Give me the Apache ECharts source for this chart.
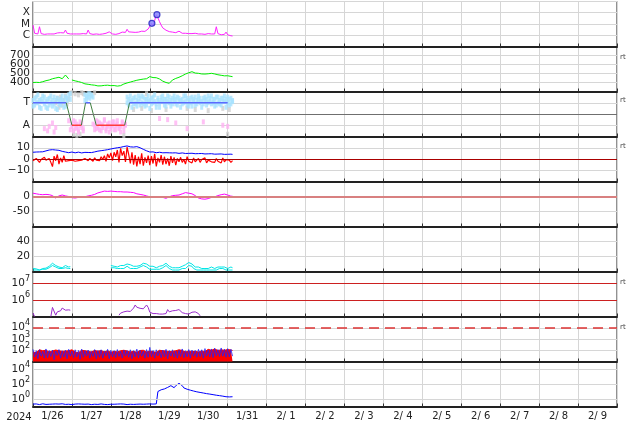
<!DOCTYPE html>
<html><head><meta charset="utf-8">
<script src="https://cdn.jsdelivr.net/npm/echarts@6/dist/echarts.min.js"></script>
<style>html,body{margin:0;padding:0;background:#fff}#c{width:634px;height:424px}</style>
</head><body><div id="c"></div>
<script>
// ---- labels ----
const dayLabels = ['1/26','1/27','1/28','1/29','1/30','1/31','2/ 1','2/ 2','2/ 3','2/ 4','2/ 5','2/ 6','2/ 7','2/ 8','2/ 9'];
const yearLabel = '2024';
const sideNotes = ['rt','rt','rt','rt','rt'];
// All series are hourly samples, index = hours since 2024-01-26 00:00 UT

// Panel 1: X-ray flux (micro W/m^2; 1 = C, 10 = M, 100 = X)
const xray = [8,1.5,1.3,1.3,5.7,1.4,1.3,1.2,1.3,1.3,
1.2,1.3,1.4,1.3,1.3,1.6,1.9,1.7,1.9,1.6,
2.9,1.5,1.3,1.3,1.4,1.3,1.2,1.3,1.4,1.3,
1.3,1.4,1.3,1.3,2.9,1.4,1.3,1.2,1.2,1.3,
1.3,1.2,1.3,1.3,1.4,1.5,1.9,2.0,1.5,1.3,
1.3,1.2,1.3,1.4,1.6,1.9,2.2,1.8,3.4,2.0,
2.3,1.9,2.1,1.8,2.5,1.9,2.0,2.3,1.9,2.2,
2.8,3.6,4.4,11,7,20,66,35,16,8,
4.5,3.3,2.8,2.3,2.1,2.0,1.9,1.8,1.7,1.7,
2.3,1.7,1.5,1.4,1.5,1.7,1.4,1.3,1.4,1.3,
1.5,1.4,1.3,1.4,1.3,1.3,1.2,1.3,1.4,1.3,
1.3,1.2,1.3,5.7,1.4,1.2,1.1,1.1,1.2,1.9,
1.1,1.0,0.9,0.86];
const flareHours = [73.3, 76.4];
const flareFlux = [11.5, 68];

// Panel 2: solar wind speed (km/s)
const speed = [400,398,402,405,400,407,409,415,420,424,
428,435,442,447,450,455,458,452,442,460,
483,462,440,null,428,425,418,412,410,408,
400,392,385,383,380,378,374,372,370,365,
362,361,363,366,368,369,370,367,365,369,
366,362,360,358,365,375,383,391,395,400,
405,409,415,420,425,428,432,436,438,440,
442,455,465,462,455,450,453,445,439,428,
415,409,400,395,391,410,428,435,445,452,
458,468,475,485,494,500,508,515,520,512,
505,500,502,498,495,500,494,492,497,500,
502,502,495,490,486,483,480,476,474,472,
475,470,468,465];

// Panel 3: IMF sector (T = +1, A = -1) and scattered samples
const sectorHours = [0, 20.5, 24, 29.8, 32.4, 35.3, 39, 56.5, 59.5, 120];
const sectorPol   = [1, 1, -1, -1, 1, 1, -1, -1, 1, 1];
const phiBlue1 = [1.2,0.8,1.5,1.0,0.6,1.3,1.6,0.9,1.1,0.5,
1.4,1.0,0.7,1.5,1.2,0.4,0.9,1.3,1.6,1.1,
0.7,1.4,1.7,1.3,null,null,null,null,null,null,
null,null,1.2,1.6,1.5,1.8,1.7,1.5,null,null,
null,null,null,null,null,null,null,null,null,null,
null,null,null,null,null,null,null,null,1.0,1.3,
1.1,0.6,1.4,0.9,1.2,1.6,0.8,1.0,1.5,0.7,
1.3,1.1,0.5,1.4,1.0,1.7,0.9,1.2,0.6,1.5,
1.1,0.8,1.3,1.6,1.0,0.7,1.4,1.2,0.9,1.5,
1.1,0.6,1.3,1.0,1.6,0.8,1.2,1.4,0.7,1.1,
1.5,0.9,1.3,1.0,0.6,1.4,1.2,0.8,1.6,1.1,
0.9,1.3,0.7,1.5,1.0,1.2,0.8,1.4,1.1,0.6,
1.5,1.3,0.9,1.2];
const phiBlue2 = [0.7,1.4,1.0,1.7,1.2,0.5,1.1,1.5,0.6,1.3,
0.8,1.6,1.2,0.9,0.5,1.4,1.1,0.8,1.2,0.6,
1.5,1.2,null,1.8,null,null,null,null,null,null,
null,null,1.7,1.3,1.8,1.4,1.6,null,null,null,
null,null,null,null,null,null,null,null,null,null,
null,null,null,null,null,null,null,null,1.5,0.8,
1.6,1.2,0.9,1.5,0.7,1.1,1.4,1.6,0.9,1.3,
0.8,1.6,1.2,0.9,1.5,1.1,0.6,1.4,1.0,1.2,
1.6,1.3,0.7,1.1,1.5,1.2,0.9,1.6,1.3,0.8,
1.4,1.2,0.9,1.6,1.1,1.4,0.7,1.0,1.5,1.3,
0.8,1.2,1.6,1.4,1.1,0.9,1.5,1.3,1.0,1.4,
1.6,1.0,1.3,0.8,1.5,0.9,1.4,1.1,1.6,1.3,
1.0,0.8,1.4,1.1];
const phiPink1 = [null,null,null,null,null,null,null,-1.3,null,-1.5,
-1.1,null,-0.8,-1.6,-1.2,null,null,null,null,null,
null,null,-0.6,-1.4,-0.9,-1.5,-0.7,-1.2,-1.6,-1.0,
-0.8,-1.3,null,null,null,null,null,-0.9,-1.4,-0.6,
-1.2,-0.8,-1.5,-1.0,-0.5,-1.3,-0.9,-1.6,-1.1,-0.7,
-1.4,-1.0,-0.6,-1.3,-1.1,-0.8,-1.5,-1.0,null,null,
null,null,null,null,null,null,null,null,null,null,
null,null,null,null,null,null,null,null,-0.4,null,
null,null,null,-0.5,null,null,null,null,-0.8,null,
null,null,null,null,null,-1.3,null,null,null,null,
null,null,null,null,null,-0.7,null,null,null,null,
null,null,null,null,null,null,null,-1.0,null,null,
-1.1,null,null,null];
const phiPink2 = [null,null,null,null,null,null,null,null,null,null,
null,null,null,null,null,null,null,null,null,null,
null,null,null,null,-1.1,-0.6,-1.3,-0.9,-1.4,-0.7,
-1.2,-1.5,null,null,null,null,null,null,-1.0,-1.3,
-0.7,-1.4,-0.9,-1.2,-0.6,-1.5,-1.1,-0.8,-1.3,-1.0,
-0.7,-1.4,-0.9,-1.2,-1.6,-0.7,-1.1,-0.9,null,null];
const phiGray = [null,null,null,null,null,null,null,null,null,null,
null,null,null,null,1.0,1.4,0.6,1.5,0.8,1.2,
1.6,0.9,1.3,1.8,1.9,-1.8,1.8,-1.9,1.7,-1.8,
1.9,1.8,null,null,null,null,null,null,1.9,null,
null,null,null,null,null,null,null,null,null,null,
null,null,null,null,null,null,-1.9,null,null,null,
null,null,0.4,null,null,null,null,0.5,null,null,
1.8,null,null,0.3,null,null,null,null,null,null,
null,null,0.4,null,null,null,null,null,null,null,
null,null,null,null,null,0.5,null,null,null,null,
0.4,null,null,null,null,null,null,null,0.3,null,
null,null,null,null,null,null,null,0.5,null,null,
-1.8,0.4,null,null];

// Panel 4: IMF Bt and Bz (nT)
const bt = [6.0,5.8,6.2,6.5,6.3,6.0,6.4,6.8,7.2,7.6,8.0,
8.6,8.3,8.8,8.0,7.5,7.7,7.2,6.8,6.5,6.2,
6.0,5.6,5.8,6.2,5.9,5.5,5.8,6.1,5.7,5.4,5.6,5.9,6.2,5.8,5.5,5.7,6.0,6.3,6.6,7.0,
7.2,7.4,7.6,7.8,8.0,8.3,8.6,8.9,9.2,9.5,9.8,10.0,10.2,10.4,10.8,11.1,11.4,11.6,11.2,10.8,
10.4,10.6,10.8,11.0,10.6,10.0,9.4,8.6,8.0,7.3,
6.5,6.2,6.0,6.3,5.9,5.6,5.8,6.0,5.7,5.5,
5.8,5.6,5.3,5.5,5.7,5.4,5.2,5.5,5.3,5.0,
5.2,5.4,5.1,4.9,5.2,5.0,4.8,5.1,4.9,4.7,
5.0,4.8,4.6,4.9,4.7,4.5,4.8,4.6,4.4,4.7,
4.5,4.3,4.6,4.4,4.2,4.5,4.3,4.1,4.4,4.2,
4.0,4.3,4.1];
const bz = [-1.5,-2.5,0.5,-1.0,-3.0,-0.5,-2.0,1.5,-1.0,-2.5,0.5,
-3.0,-6.8,2.5,-1.5,4.0,-4.5,1.0,-3.0,3.0,-2.0,
-0.5,-1.5,-2.5,-1.0,0.5,-2.0,-0.5,-1.5,0.0,-1.0,
-2.0,0.5,-1.0,-1.5,0.5,-0.5,-2.0,1.0,-1.0,0.5,
-1.5,2.0,-0.5,3.0,-2.0,4.5,1.0,5.5,-1.5,6.0,
2.0,8.0,-3.0,9.5,3.0,7.0,-2.5,10.5,4.0,-4.0,
6.0,-5.0,3.5,-6.5,2.0,-4.5,5.0,-6.0,1.5,-3.5,
3.0,-5.5,2.5,-4.0,4.5,-6.5,1.0,-3.0,3.5,-5.0,
2.0,-4.5,0.5,-6.0,2.5,-3.5,1.5,-5.5,0.5,-2.5,
1.5,-3.0,-0.5,-4.5,2.0,-2.0,-1.0,-3.5,1.0,-2.5,
-1.5,0.5,-3.0,-0.5,-2.0,1.0,-3.5,-1.0,0.5,-2.5,
-1.5,-3.0,0.5,-2.0,-1.0,-3.5,1.0,-2.5,-0.5,-2.0,
-1.0,-3.0,-1.5];

// Panel 5: Dst (nT)
const dst = [11,10,9,8,7,7,6,6,7,6,
6,5,3,0,-5,-3,2,4,5,4,
2,1,0,-2,-4,-6,-5,-4,-3,-3,
-3,-2,-1,0,2,3,4,5,7,10,
12,13,15,17,18,18,17,18,18,17,
17,16,16,17,16,15,15,16,15,14,
14,13,13,11,9,8,7,6,5,4,
2,0,-1,-1,0,-1,-2,-1,0,-1,
-3,-5,-6,-4,-1,1,3,4,4,5,
5,7,9,11,13,12,11,10,9,7,
3,-2,-5,-7,-8,-9,-9,-8,-7,-5,
-3,-2,-1,1,3,5,6,7,8,8,
5,2,1,1];

// Panel 6: solar wind density (/cc), two sources
const dens1 = [4,3,3.5,2.5,2,3,4,5,4.5,6,7,9,11,10,8,7,6,7.5,5,6,8,7,6,6.5,
null,null,null,null,null,null,null,null,null,null,null,null,
null,null,null,null,null,null,null,null,null,null,null,null,
8,9,7,8,6,7,8,7,8,9,
10,11,9,8,7,8,7,6,8,9,
11,12,10,8,7,6,7,6,5,6,
7,6,8,10,11,9,7,6,5,6,
5,4,5,6,7,8,9,11,12,13,
10,8,6,5,6,5,4,5,4,5,
4,5,6,5,4,5,6,5,6,7,
6,5,4,5,6,5];
const dens2 = [2,2.5,2,1.5,2,2.5,3,3.5,3,4,5,6,8,9,6,5,4,5,4,4.5,5,5.5,4,4,
null,null,null,null,null,null,null,null,null,null,null,null,
null,null,null,null,null,null,null,null,null,null,null,null,
5,4,5,3,4,5,4,3,4,5,
7,6,4,3,4,3,4,5,6,5,
8,9,6,4,3,4,3,2,3,4,
3,4,5,7,8,6,4,3,2,3,
2,3,2,3,4,3,4,6,8,10,
7,4,3,2,3,2,3,2,3,2,
3,2,3,2,3,2,3,4,3,4,
3,2,3,2,3,2];

// Panel 7: electron flux
const electron = [1.6e5,1.0e5,null,null,null,null,null,null,null,null,null,
1.0e5,3.5e5,3.9e5,1.2e5,1.9e5,1.8e5,2.2e5,3.2e5,3.0e5,2.4e5,2.6e5,2.5e5,2.4e5,
null,null,null,null,null,null,null,null,null,null,null,null,
1.1e5,
null,null,null,null,null,null,null,null,null,null,null,null,null,null,null,null,
1.2e5,1.6e5,1.4e5,1.9e5,1.7e5,2.1e5,2.2e5,2.0e5,2.3e5,3.2e5,
4.9e5,3.6e5,2.8e5,3.1e5,2.4e5,2.9e5,3.8e5,4.9e5,3.5e5,1.8e5,
1.6e5,1.5e5,1.7e5,1.5e5,1.3e5,1.4e5,1.2e5,1.4e5,1.3e5,1.5e5,
2.6e5,1.9e5,2.5e5,2.2e5,1.8e5,2.3e5,2.0e5,2.6e5,2.9e5,1.7e5,
1.3e5,1.5e5,1.2e5,1.4e5,1.6e5,1.8e5,1.7e5,1.9e5,1.8e5,1.5e5,
1.1e5,
null,null,null,null,null,null,null,null,null,null,
null,null,null,null,null,null,null,null,null,null];

// Panel 8: proton flux (two channels)
const protonRed = [70,95,60,85,110,75,90,65,100,80,70,95,85,60,105,75,90,70,80,100,
85,65,90,75,110,80,70,95,60,85,100,75,90,65,80,105,70,85,95,75,
80,60,95,85,70,100,90,75,65,95,80,110,70,85,90,60,100,75,85,95,
70,90,80,105,65,85,95,75,100,80,70,90,85,110,75,95,65,85,100,80,
90,70,85,95,75,100,80,65,90,85,110,75,95,80,70,100,85,90,75,95,
80,100,70,90,85,110,75,95,120,90,100,85,130,105,95,140,110,125,100,135,115,120,105,95];
const protonBlue = [120,25,90,18,110,30,80,20,130,22,95,28,105,15,85,35,115,20,90,25,
100,18,120,30,85,22,110,26,95,16,125,24,90,30,105,20,80,28,115,18,
95,24,110,20,85,32,120,18,100,26,90,22,115,28,80,20,105,30,95,24,
110,18,90,26,125,22,100,30,85,20,115,24,180,28,95,20,110,32,90,22,
105,26,120,18,95,30,110,24,85,20,100,28,130,22,90,26,115,20,105,30,
95,24,120,28,110,20,140,30,105,26,130,22,150,32,115,28,160,30,125,24,140,26,120,30];

// Panel 9: high-energy proton flux
const protonHigh = [0.21,0.19,0.22,0.20,0.18,0.21,0.23,0.20,0.19,0.22,
0.20,0.18,0.21,0.19,0.22,0.20,0.21,0.19,0.23,0.20,
0.19,0.21,0.20,0.22,0.18,0.20,0.21,0.19,0.22,0.20,
0.21,0.23,0.20,0.19,0.21,0.20,0.18,0.22,0.20,0.21,
0.19,0.20,0.22,0.21,0.19,0.20,0.18,0.21,0.20,0.22,
0.20,0.19,0.21,0.20,0.22,0.19,0.21,0.20,0.18,0.21,
0.20,0.22,0.19,0.21,0.20,0.19,0.21,0.22,0.20,0.19,
0.21,0.20,0.22,0.19,0.21,0.20,0.22,
10,14,17,19,22,26,35,48,60,40,
32,60,95,123,90,60,30,24,20,17,
15,13,11.5,10,9,8,7.5,7,6.3,5.8,
5.2,4.8,4.5,4.2,3.8,3.5,3.2,3.0,2.8,2.6,
2.4,2.2,2.0,1.85,1.9,2.0,2.0];

// ---------------- chart building ----------------
const FONT = 'DejaVu Sans';
const GRIDC = '#d6d6d6';
const N = 9, TOP0 = 1.5, H = 45;
const toXY = arr => arr.map((v, i) => [i, v == null ? '-' : v]);
const toPts = arr => arr.map((v, i) => [i, v]).filter(p => p[1] != null);

const grids = [], xAxes = [], yAxes = [], series = [];
for (let i = 0; i < N; i++) {
  grids.push({left: 33, right: 17, top: TOP0 + i * H, height: H, show: true, borderColor: '#222', borderWidth: 1});
  xAxes.push({type: 'value', gridIndex: i, min: 0, max: 360, interval: 24,
    axisLabel: {show: false},
    axisTick: {show: true, inside: true, length: 3, lineStyle: {color: '#333'}},
    axisLine: {show: true, onZero: false, lineStyle: {color: '#222', width: 2}},
    splitLine: {show: true, lineStyle: {color: GRIDC, width: 1}}});
}
xAxes.push({type: 'category', gridIndex: 8, data: dayLabels, position: 'bottom', boundaryGap: true,
  axisLine: {show: false}, axisTick: {show: false}, splitLine: {show: false},
  axisLabel: {interval: 0, fontSize: 10, color: '#222', fontFamily: FONT, margin: 5}});

const lab = {fontSize: 10.5, color: '#222', fontFamily: FONT, margin: 3};
const rich = {b: {fontSize: 10.5, fontFamily: FONT, color: '#222'}, s: {fontSize: 8, fontFamily: FONT, color: '#222', padding: [0, 0, 9, 0]}};
const logFmt = allowed => v => {
  const l = Math.log10(v), e = Math.round(l);
  if (Math.abs(l - e) > 0.01 || allowed.indexOf(e) < 0) return '';
  return '{b|10}{s|' + e + '}';
};
const base = i => ({gridIndex: i, axisLine: {show: false}, axisTick: {show: false},
  splitLine: {show: true, lineStyle: {color: GRIDC, width: 1}}});

yAxes.push(Object.assign(base(0), {type: 'log', logBase: 10, min: 0.1, max: 1000,
  axisLabel: Object.assign({}, lab, {formatter: v => {
    const l = Math.log10(v), e = Math.round(l);
    if (Math.abs(l - e) > 0.01) return '';
    return ({0: 'C', 1: 'M', 2: 'X'})[e] || '';
  }})}));
yAxes.push(Object.assign(base(1), {type: 'value', min: 300, max: 800, interval: 100,
  axisLabel: Object.assign({}, lab, {formatter: v => (v >= 400 && v <= 700) ? String(v) : ''})}));
yAxes.push(Object.assign(base(2), {type: 'value', min: -2, max: 2, interval: 1,
  axisLabel: Object.assign({}, lab, {formatter: v => v === 1 ? 'T' : (v === -1 ? 'A' : '')})}));
yAxes.push(Object.assign(base(3), {type: 'value', min: -20, max: 20, interval: 10,
  axisLabel: Object.assign({}, lab, {formatter: v => v === 10 ? '10' : (v === 0 ? '0' : (v === -10 ? '\u221210' : ''))})}));
yAxes.push(Object.assign(base(4), {type: 'value', min: -100, max: 50, interval: 50,
  axisLabel: Object.assign({}, lab, {formatter: v => v === 0 ? '0' : (v === -50 ? '-50' : '')})}));
yAxes.push(Object.assign(base(5), {type: 'value', min: 0, max: 60, interval: 20,
  axisLabel: Object.assign({}, lab, {formatter: v => (v === 20 || v === 40) ? String(v) : ''})}));
yAxes.push(Object.assign(base(6), {type: 'log', logBase: 10, min: 1e5, max: 5e7, splitLine: {show: false},
  axisLabel: Object.assign({}, lab, {formatter: logFmt([6, 7]), rich})}));
yAxes.push(Object.assign(base(7), {type: 'log', logBase: 10, min: 10, max: 1e5,
  axisLabel: Object.assign({}, lab, {formatter: logFmt([2, 3, 4]), rich})}));
yAxes.push(Object.assign(base(8), {type: 'log', logBase: 10, min: 0.1, max: 1e5, splitLine: {show: false},
  axisLabel: Object.assign({}, lab, {formatter: logFmt([0, 2, 4]), rich})}));

const line = (gi, data, color, width, extra) => Object.assign({
  type: 'line', xAxisIndex: gi, yAxisIndex: gi, data: data, symbol: 'none', showSymbol: false,
  lineStyle: {color: color, width: width || 1}, itemStyle: {color: color}, connectNulls: false,
  silent: true, animation: false, z: 3}, extra || {});
const mline = (vals, color, width, type) => ({silent: true, symbol: ['none', 'none'], label: {show: false},
  lineStyle: {color: color, width: width, type: type || 'solid'},
  data: vals.map(v => ({yAxis: v})), animation: false});
const dots = (gi, data, color) => ({type: 'scatter', xAxisIndex: gi, yAxisIndex: gi, data: toPts(data),
  symbol: 'rect', symbolSize: [3, 5], itemStyle: {color: color}, silent: true, animation: false, z: 2});

// Panel 1
series.push(line(0, toXY(xray), '#ff22ff', 1));
series.push({type: 'scatter', xAxisIndex: 0, yAxisIndex: 0, data: flareHours.map((h, i) => [h, flareFlux[i]]),
  symbol: 'circle', symbolSize: 6, itemStyle: {color: '#8080ff', borderColor: '#2020c0', borderWidth: 1.2}, z: 6, silent: true, animation: false});
// Panel 2
series.push(line(1, toXY(speed), '#00ee00', 1));
// Panel 3
series.push(dots(2, phiGray, '#cfcfcf'));
series.push(dots(2, phiBlue1, '#a8e2ff'));
series.push(dots(2, phiBlue2, '#a8e2ff'));
series.push(dots(2, phiPink1, '#ffb2f2'));
series.push(dots(2, phiPink2, '#ffb2f2'));
series.push(line(2, [], '#777', 1, {markLine: mline([0], '#6f6f6f', 1)}));
for (let i = 0; i < sectorHours.length - 1; i++) {
  const a = sectorPol[i], b = sectorPol[i + 1];
  const col = a === b ? (a > 0 ? '#5b6bff' : '#ff3b3b') : '#3f7f3f';
  series.push(line(2, [[sectorHours[i], a], [sectorHours[i + 1], b]], col, a === b ? 1.6 : 1, {z: 4}));
}
// Panel 4
series.push(line(3, toXY(bt), '#0000ff', 1));
series.push(line(3, toXY(bz), '#ff0000', 1.2, {markLine: mline([0], '#aa0000', 1.2)}));
// Panel 5
series.push(line(4, toXY(dst), '#ff00ff', 1, {markLine: mline([0], '#d88080', 2)}));
// Panel 6
series.push(line(5, toXY(dens1), '#00e6e6', 1));
series.push(line(5, toXY(dens2), '#00e6e6', 1));
// Panel 7
series.push(line(6, toXY(electron), '#9a2ccc', 1, {markLine: mline([1e6, 1e7], '#cc2020', 1)}));
// Panel 8
series.push(line(7, toXY(protonRed), '#ff0000', 1, {areaStyle: {color: '#ff0000', opacity: 1, origin: 'start'},
  markLine: mline([1e4], '#dd3333', 1.5, [10, 6])}));
series.push(line(7, toXY(protonBlue), '#2020ff', 0.8, {z: 4}));
// Panel 9
series.push(line(8, toXY(protonHigh), '#0000ff', 1, {markLine: mline([1, 100, 1e4], GRIDC, 1)}));

const notesY = [57, 100, 146.5, 282.5, 327];
const graphic = [{type: 'text', x: 19, y: 417, style: {text: yearLabel, fontSize: 10, fontFamily: FONT, fill: '#222', align: 'center', verticalAlign: 'middle'}}]
  .concat(notesY.map((y, i) => ({type: 'text', x: 620, y: y, style: {text: sideNotes[i], fontSize: 7, fontFamily: FONT, fill: '#444', align: 'left', verticalAlign: 'middle'}})));

const chart = echarts.init(document.getElementById('c'), null, {renderer: 'canvas', width: 634, height: 424});
chart.setOption({
  animation: false,
  backgroundColor: '#ffffff',
  textStyle: {fontFamily: FONT},
  grid: grids, xAxis: xAxes, yAxis: yAxes, series: series, graphic: graphic
});
</script>
</body></html>
